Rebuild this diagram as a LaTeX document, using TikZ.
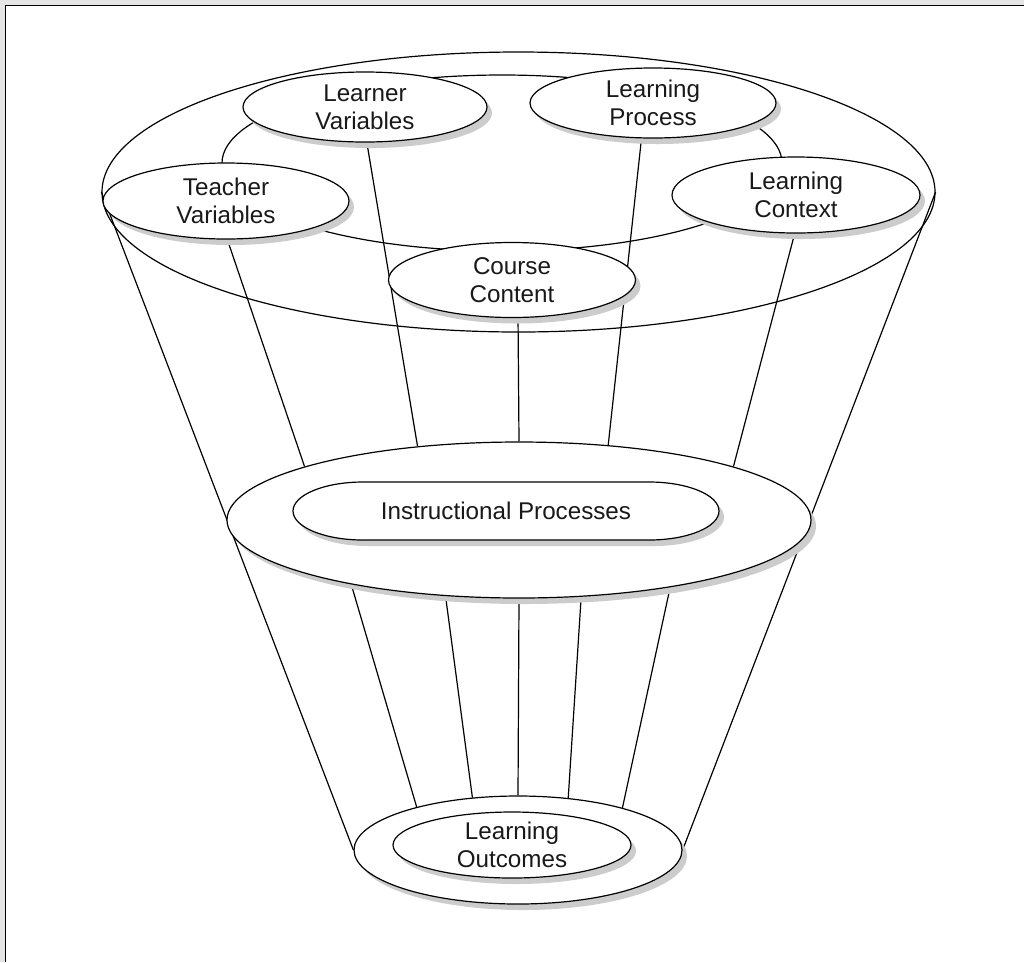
\documentclass[tikz,border=0pt]{standalone}
\usepackage{fontspec}
\setmainfont{Liberation Sans}
\usetikzlibrary{shapes.geometric,shadows,backgrounds}
\begin{document}
\begin{tikzpicture}[x=1pt,y=1pt,
  every node/.style={font=\fontsize{24.2}{28}\selectfont, text=black!90},
  lbl/.style={ellipse,draw,line width=1.2pt,fill=white,inner sep=0pt,align=center,
    drop shadow={shadow xshift=5pt,shadow yshift=-6pt,fill=black!20,opacity=1}},
  plain/.style={ellipse,draw,line width=1.2pt,inner sep=0pt},
  conn/.style={line width=1.2pt}]
\useasboundingbox (0,0) rectangle (1024,-962);

% rim of the funnel and inner ring
\node[plain,minimum width=833pt,minimum height=280pt] (rim) at (518.5,-192) {};
\node[plain,minimum width=560pt,minimum height=176pt] (ring) at (502,-163) {};

% top nodes
\node[lbl,minimum width=246pt,minimum height=76pt] (teacher) at (226,-201) {Teacher\\Variables};
\node[lbl,minimum width=244pt,minimum height=70pt] (learner) at (365,-107) {Learner\\Variables};
\node[lbl,minimum width=246pt,minimum height=70pt] (process) at (653,-103) {Learning\\Process};
\node[lbl,minimum width=248pt,minimum height=76pt] (context) at (796,-195) {Learning\\Context};
\node[lbl,minimum width=247pt,minimum height=75pt] (course) at (512,-280) {Course\\Content};

% instructional processes
\node[lbl,minimum width=584pt,minimum height=156pt] (io) at (519,-520) {};
\begin{scope}[shift={(5,-6)}]
\fill[black!20] (363,-482) -- (649,-482) arc[start angle=90,end angle=-90,x radius=70,y radius=29]
  -- (363,-540) arc[start angle=270,end angle=90,x radius=70,y radius=29] -- cycle;
\end{scope}
\draw[line width=1.2pt,fill=white] (363,-482) -- (649,-482) arc[start angle=90,end angle=-90,x radius=70,y radius=29]
  -- (363,-540) arc[start angle=270,end angle=90,x radius=70,y radius=29] -- cycle;
\node (ip) at (506,-511) {Instructional Processes};

% learning outcomes
\node[lbl,minimum width=328pt,minimum height=108pt] (oo) at (518,-850) {};
\node[lbl,minimum width=238pt,minimum height=66pt] (oi) at (512,-845) {Learning\\Outcomes};

\begin{pgfonlayer}{background}
\fill[white] (0,0) rectangle (1024,-962);
\fill[black!10] (0,0) rectangle (1024,-5) (0,0) rectangle (5,-962);
\draw[line width=1.6pt] (1024,-5.5) -- (5.5,-5.5) -- (5.5,-962);
\draw[conn] (teacher.272.9) -- (io.166.6);
\draw[conn] (learner.273.3) -- (io.144.9);
\draw[conn] (course.279.2) -- (io.90);
\draw[conn] (process.252.1) -- (io.40.1);
\draw[conn] (context.268.5) -- (io.14.8);
\draw[conn] (rim.west) -- (oo.west);
\draw[conn] (rim.east) -- (oo.east);
\draw[conn] (io.201.6) -- (oo.157.5);
\draw[conn] (io.226.8) -- (oo.131.5);
\draw[conn] (io.270) -- (oo.90);
\draw[conn] (io.309.7) -- (oo.46.7);
\draw[conn] (io.336.8) -- (oo.22.1);
\end{pgfonlayer}
\end{tikzpicture}
\end{document}
